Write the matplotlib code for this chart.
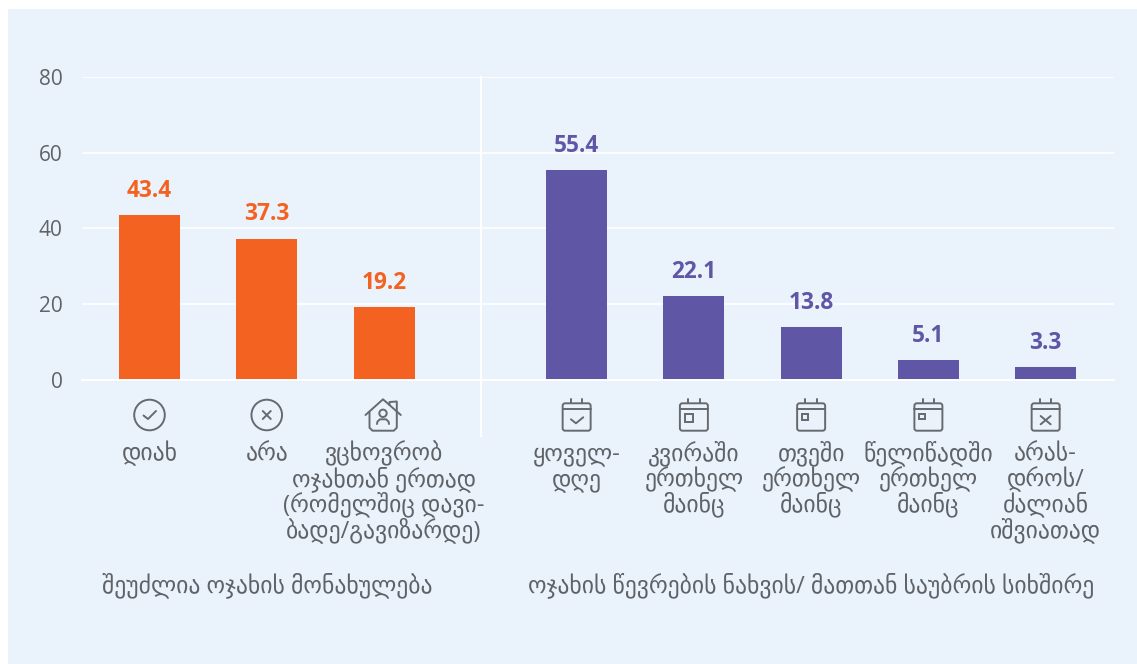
import matplotlib
matplotlib.use("Agg")
import matplotlib.pyplot as plt
from matplotlib.patches import Rectangle, Circle, FancyBboxPatch
from matplotlib.lines import Line2D

W, H = 1137, 664
family_labels = ['Open Sans', 'DejaVu Sans']

# ---- data ----
group1_labels = ["დიახ", "არა", "ვცხოვრობ\nოჯახთან ერთად\n(რომელშიც დავი-\nბადე/გავიზარდე)"]
group1_values = [43.4, 37.3, 19.2]
group2_labels = ["ყოველ-\nდღე", "კვირაში\nერთხელ\nმაინც", "თვეში\nერთხელ\nმაინც",
                 "წელიწადში\nერთხელ\nმაინც", "არას-\nდროს/\nძალიან\nიშვიათად"]
group2_values = [55.4, 22.1, 13.8, 5.1, 3.3]
group1_title = "შეუძლია ოჯახის მონახულება"
group2_title = "ოჯახის წევრების ნახვის/ მათთან საუბრის სიხშირე"
y_ticks = [0, 20, 40, 60, 80]

group1_icons = ["check", "cross", "house"]
group2_icons = ["cal_check", "cal_big", "cal_mid", "cal_small", "cal_x"]

ORANGE = "#F46221"
PURPLE = "#5F57A5"
PANEL = "#EAF3FB"
TEXT = "#5F6368"
ICON = "#666A6E"

fig = plt.figure(figsize=(W / 100, H / 100), dpi=100, facecolor="white")
fig.patches.append(Rectangle((8 / W, 0), (W - 8) / W, (H - 9) / H,
                             transform=fig.transFigure, facecolor=PANEL, edgecolor="none", zorder=-5))

ax = fig.add_axes([82 / W, 1 - 379.7 / H, (1114 - 82) / W, (379.7 - 76.9) / H])
ax.patch.set_alpha(0)
slot = 117.25
x0 = 149.5
ax.set_xlim((82 - x0) / slot, (1114 - x0) / slot)
ax.set_ylim(0, 80)
g1_x = list(range(len(group1_values)))
g2_x = [3.643 + i for i in range(len(group2_values))]
bw = 61 / slot
ax.bar(g1_x, group1_values, width=bw, color=ORANGE, zorder=3)
ax.bar(g2_x, group2_values, width=bw, color=PURPLE, zorder=3)
for x, v in zip(g1_x, group1_values):
    ax.annotate(f"{v}", (x, v), xytext=(0, 12.5), textcoords="offset pixels", ha="center", va="bottom",
                color=ORANGE, fontsize=16.3, fontweight="bold", family="Open Sans")
for x, v in zip(g2_x, group2_values):
    ax.annotate(f"{v}", (x, v), xytext=(0, 12.5), textcoords="offset pixels", ha="center", va="bottom",
                color=PURPLE, fontsize=16.3, fontweight="bold", family="Open Sans")
ax.set_yticks(y_ticks)
ax.set_xticks([])
ax.tick_params(axis="y", length=0, pad=14)
for t in ax.get_yticklabels():
    t.set_family("Open Sans"); t.set_fontsize(15); t.set_color(TEXT)
ax.grid(axis="y", color="white", lw=1.15, zorder=1)
ax.axhline(0, color="white", lw=1.4, zorder=4, clip_on=False)
ax.set_axisbelow(True)
for s in ax.spines.values():
    s.set_visible(False)

ov = fig.add_axes([0, 0, 1, 1])
ov.set_xlim(0, W); ov.set_ylim(H, 0); ov.axis("off"); ov.patch.set_alpha(0)
ov.add_line(Line2D([480.5, 480.5], [77, 436], color="white", lw=1.5, zorder=2))
LW = 1.4


def L(xs, ys, lw=LW):
    ov.add_line(Line2D(xs, ys, color=ICON, lw=lw, solid_capstyle="round", solid_joinstyle="round"))


def icon(kind, cx):
    cy = 415
    if kind in ("check", "cross"):
        ov.add_patch(Circle((cx, cy), 15.3, fill=False, ec=ICON, lw=LW))
        if kind == "check":
            L([cx - 6, cx - 1.5, cx + 6.5], [cy + 0.5, cy + 4, cy - 4])
        else:
            L([cx - 4, cx + 4], [cy - 4, cy + 4]); L([cx - 4, cx + 4], [cy + 4, cy - 4])
    elif kind == "house":
        c = cx - 1
        L([c - 17.5, c, c + 17.8], [cy, cy - 15.7, cy])
        L([c - 13.5, c - 13.5, c - 10.5, c + 10.8, c + 13.8, c + 13.8],
          [cy - 3, cy + 12.7, cy + 15.7, cy + 15.7, cy + 12.7, cy - 3])
        L([c + 6.5, c + 6.5, c + 13.8, c + 13.8], [cy - 10, cy - 13, cy - 13.5, cy - 3])
        ov.add_patch(Circle((c, cy - 1.7), 3.7, fill=False, ec=ICON, lw=LW))
        L([c - 6, c - 5.5, c - 3, c + 3, c + 5.5, c + 6], [cy + 9, cy + 6.5, cy + 4.3, cy + 4.3, cy + 6.5, cy + 9])
    else:
        ov.add_patch(FancyBboxPatch((cx - 13, cy - 10.7), 26, 25.4, boxstyle="round,pad=1,rounding_size=2.5",
                                    fill=False, ec=ICON, lw=LW))
        L([cx - 14, cx + 14], [cy - 5.7, cy - 5.7])
        L([cx - 5.8, cx - 5.8], [cy - 15.7, cy - 11.7]); L([cx + 5.8, cx + 5.8], [cy - 15.7, cy - 11.7])
        if kind == "cal_check":
            L([cx - 5.7, cx - 0.7, cx + 6.6], [cy + 4.3, cy + 8.3, cy + 2.3])
        elif kind == "cal_x":
            L([cx - 5, cx + 5], [cy + 1, cy + 9.3]); L([cx - 5, cx + 5], [cy + 9.3, cy + 1])
        else:
            s = {"cal_big": 8.5, "cal_mid": 6.5, "cal_small": 5.5}[kind]
            ov.add_patch(Rectangle((cx - 9.2, cy - 1.5), s, s, fill=False, ec=ICON, lw=LW))


def px(x):
    return x0 + x * slot


FS = 17
for x, lab, ic in zip(g1_x + g2_x, group1_labels + group2_labels, group1_icons + group2_icons):
    icon(ic, px(x))
    for i, line in enumerate(lab.split("\n")):
        ov.text(px(x), 460.5 + 25.6 * i, line, ha="center", va="baseline", fontsize=FS, color=TEXT,
                family=family_labels)
ov.text(267, 592, group1_title, ha="center", va="baseline", fontsize=FS, color=TEXT, family=family_labels)
ov.text(811, 592, group2_title, ha="center", va="baseline", fontsize=FS, color=TEXT, family=family_labels)

fig.savefig("out.png", dpi=100, facecolor="white")
